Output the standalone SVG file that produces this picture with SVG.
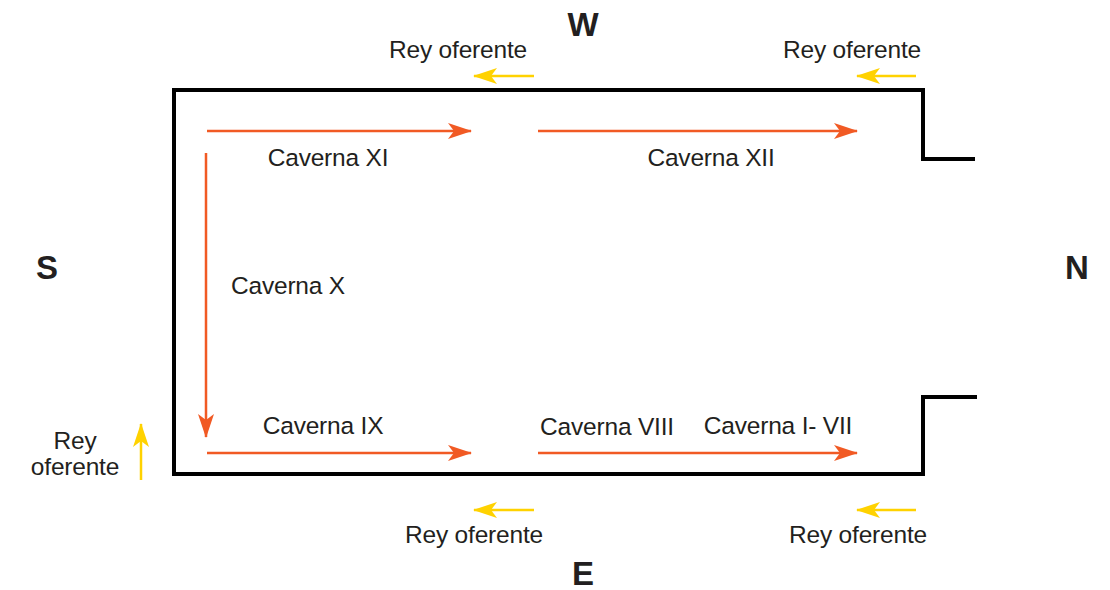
<svg xmlns="http://www.w3.org/2000/svg" width="1110" height="590" viewBox="0 0 1110 590">
<defs>
<marker id="oa" markerWidth="24" markerHeight="16" refX="23" refY="8" orient="auto" markerUnits="userSpaceOnUse"><path d="M0,0 L24,8 L0,16 L6,8 Z" fill="#f15a24"/></marker>
<marker id="ya" markerWidth="24" markerHeight="16" refX="23" refY="8" orient="auto" markerUnits="userSpaceOnUse"><path d="M0,0 L24,8 L0,16 L6,8 Z" fill="#ffd200"/></marker>
</defs>
<style>
.t{font-family:"Liberation Sans",Arial,sans-serif;font-size:24.5px;fill:#231f20;letter-spacing:-0.2px}
.d{font-family:"Liberation Sans",Arial,sans-serif;font-size:33px;font-weight:bold;fill:#231f20}
.o{stroke:#f15a24;stroke-width:2.5;fill:none;marker-end:url(#oa)}
.y{stroke:#ffd200;stroke-width:2.5;fill:none;marker-end:url(#ya)}
.w{stroke:#000;stroke-width:4;fill:none}
</style>
<g id="walls">
<path class="w" d="M975,159 L923,159 L923,90 L174,90 L174,474 L923,474 L923,397 L977,397"/>
</g>
<g id="connectors">
<line class="o" x1="207" y1="131" x2="471" y2="131"/>
<line class="o" x1="538" y1="131" x2="857" y2="131"/>
<line class="o" x1="206" y1="153" x2="206" y2="437"/>
<line class="o" x1="207" y1="453" x2="471" y2="453"/>
<line class="o" x1="538" y1="453" x2="857" y2="453"/>
<line class="y" x1="534" y1="76" x2="474" y2="76"/>
<line class="y" x1="916" y1="76" x2="857" y2="76"/>
<line class="y" x1="534" y1="510" x2="474" y2="510"/>
<line class="y" x1="916" y1="510" x2="857" y2="510"/>
<line class="y" x1="141" y1="480" x2="141" y2="424"/>
</g>
<g id="directions">
<text class="d" x="583" y="36" text-anchor="middle">W</text>
<text class="d" x="47" y="279" text-anchor="middle">S</text>
<text class="d" x="1077" y="279" text-anchor="middle">N</text>
<text class="d" x="583" y="585" text-anchor="middle">E</text>
</g>
<g id="rey-labels">
<text class="t" x="458" y="58" text-anchor="middle">Rey oferente</text>
<text class="t" x="852" y="58" text-anchor="middle">Rey oferente</text>
<text class="t" x="474" y="543" text-anchor="middle">Rey oferente</text>
<text class="t" x="858" y="543" text-anchor="middle">Rey oferente</text>
<text class="t" x="75" y="449" text-anchor="middle">Rey</text>
<text class="t" x="75" y="475" text-anchor="middle">oferente</text>
</g>
<g id="cavernas">
<text class="t" x="328" y="166" text-anchor="middle">Caverna XI</text>
<text class="t" x="711" y="166" text-anchor="middle">Caverna XII</text>
<text class="t" x="288" y="294" text-anchor="middle">Caverna X</text>
<text class="t" x="323" y="434" text-anchor="middle">Caverna IX</text>
<text class="t" x="607" y="435" text-anchor="middle">Caverna VIII</text>
<text class="t" x="778" y="434" text-anchor="middle">Caverna I- VII</text>
</g>
</svg>
